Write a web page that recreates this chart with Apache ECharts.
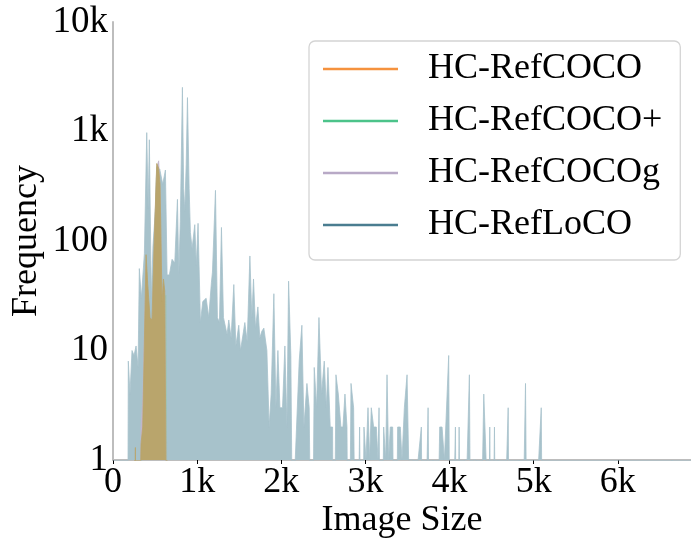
<!DOCTYPE html>
<html>
<head>
<meta charset="utf-8">
<script src="https://cdn.jsdelivr.net/npm/echarts@6/dist/echarts.min.js"></script>
<style>
  html, body { margin: 0; padding: 0; background: #fff; }
  #main { width: 691px; height: 539px; }
</style>
</head>
<body>
<div id="main"></div>
<script>
// image size (px) -> frequency; 0 = empty bin
const locoSize = [0, 171, 182, 202, 226, 250, 274, 298, 313, 337, 373, 401, 418, 432, 456, 475, 492, 508, 524, 540, 555,
  591, 623, 643, 670, 702, 734, 766, 782, 800, 825, 840, 853, 870, 885, 905, 920, 940, 972, 990, 1011, 1039, 1067,
  1107, 1138, 1170, 1182, 1218, 1241, 1265, 1289, 1313, 1336, 1356, 1376, 1404, 1436, 1460, 1495, 1515, 1539, 1567,
  1595, 1627, 1650, 1670, 1694, 1722, 1745, 1769, 1793, 1829, 1856, 1880, 1912, 1936, 1960, 1984, 2015, 2043, 2067,
  2087, 2114, 2146, 2166, 2213, 2245, 2269, 2305, 2332, 2364, 2392, 2420, 2448, 2479, 2511, 2535, 2555, 2582, 2610,
  2622, 2650, 2678, 2709, 2733, 2757, 2781, 2800, 2829, 2860, 2892, 2931, 2959, 2983, 3007, 3031, 3050, 3070, 3098,
  3130, 3150, 3162, 3186, 3217, 3241, 3257, 3276, 3296, 3324, 3356, 3383, 3415, 3435, 3463, 3495, 3514, 3566, 3590,
  3626, 3665, 3685, 3745, 3772, 3804, 3832, 3883, 3911, 3939, 3990, 4010, 4070, 4090, 4114, 4137, 4177, 4209, 4236,
  4260, 4280, 4312, 4347, 4407, 4435, 4454, 4478, 4502, 4534, 4558, 4578, 4605, 4697, 4716, 4823, 4843, 4903, 4930,
  5090, 5113, 6640, 6648, 6656, 6870];
const locoFreq = [0, 0, 8, 4, 10, 9, 11, 7, 56, 30, 77, 976, 200, 840, 30, 90, 141, 200, 256, 400, 455,
  330, 445, 49, 49, 68, 63, 240, 49, 150, 2530, 300, 187, 500, 2040, 300, 120, 85, 141, 60, 145, 18, 28,
  30, 20, 42, 52, 290, 20, 18, 133, 20, 20, 14, 19, 13, 40, 11, 17, 10, 13, 18,
  12, 73, 20, 45, 16, 25, 13, 15, 16, 10, 2, 4, 33, 3, 10, 3, 3, 11, 2,
  43, 9, 0, 1, 8, 17, 2, 5, 3, 0, 7, 3, 20, 4, 8, 3, 7, 2, 2,
  0, 6, 4, 2, 2, 4, 2, 0, 5, 3, 0, 2, 0, 2, 1, 3, 1, 3, 2,
  2, 1, 3, 0, 2, 1, 6, 1, 2, 2, 0, 2, 2, 1, 3, 6, 1, 1, 0,
  1, 2, 0, 3, 0, 1, 0, 2, 2, 1, 9, 0, 2, 0, 2, 0, 1, 1, 6,
  0, 1, 1, 0, 4, 1, 0, 2, 0, 2, 0, 1, 0, 3, 0, 1, 0, 5, 0,
  3, 0, 0, 1, 0, 0];

const cocoSize = [250, 266, 280, 333, 353, 393, 413, 440, 464, 492, 520, 543, 559, 583, 600, 615, 631, 648];
const cocoFreq = [0, 1.3, 0, 1.4, 2, 75, 40, 20, 19, 114, 510, 460, 330, 28, 45, 35, 36, 0];

const cocoPlusSize = [330, 340, 360, 395, 415, 440, 465, 492, 520, 543, 560, 583, 600, 615, 630, 646];
const cocoPlusFreq = [0, 1.2, 1.8, 60, 35, 16, 17, 100, 470, 430, 300, 25, 40, 30, 32, 0];

const cocoGSize = [325, 333, 353, 393, 413, 440, 464, 492, 520, 543, 559, 583, 600, 615, 631, 648];
const cocoGFreq = [0, 2, 3.5, 60, 35, 15, 16, 100, 470, 540, 300, 25, 40, 30, 30, 0];

const xTicks = [0, 1000, 2000, 3000, 4000, 5000, 6000];

const FONT = 'Liberation Serif';

// log axis: empty bins go far below the axis floor and get clipped
function pairs(sizes, freqs) {
  return sizes.map((s, i) => [s, freqs[i] > 0 ? freqs[i] : 0.01]);
}

function kLabel(v) {
  if (v === 0) return '0';
  return v >= 1000 ? (v / 1000) + 'k' : String(v);
}

function areaSeries(name, data, lineColor, fillColor, z) {
  return {
    name: name,
    type: 'line',
    data: data,
    symbol: 'none',
    z: z,
    clip: true,
    itemStyle: { color: lineColor },
    lineStyle: { color: fillColor, width: 0.8 },
    areaStyle: { color: fillColor, opacity: 1 },
    emphasis: { disabled: true }
  };
}

const chart = echarts.init(document.getElementById('main'), null, { renderer: 'canvas' });

chart.setOption({
  animation: false,
  backgroundColor: '#fff',
  grid: { left: 113, right: 0, top: 22, bottom: 79, outerBoundsMode: 'none', containLabel: false },
  legend: {
    data: ['HC-RefCOCO', 'HC-RefCOCO+', 'HC-RefCOCOg', 'HC-RefLoCO'],
    orient: 'vertical',
    left: 309,
    top: 41,
    icon: 'rect',
    itemWidth: 75,
    itemHeight: 2.5,
    itemGap: 16,
    padding: [10, 18, 17, 14],
    borderColor: '#d4d4d4',
    borderWidth: 1.3,
    borderRadius: 6,
    backgroundColor: '#fff',
    textStyle: { fontFamily: FONT, fontSize: 36, lineHeight: 36, color: '#000', padding: [0, 0, 0, 25] }
  },
  xAxis: {
    type: 'value',
    min: 0,
    max: 6870,
    interval: 1000,
    name: 'Image Size',
    nameLocation: 'middle',
    nameGap: 43,
    nameMoveOverlap: false,
    nameTextStyle: { fontFamily: FONT, fontSize: 36, color: '#000' },
    axisLine: { lineStyle: { color: '#bdbdbd', width: 2 } },
    axisTick: { show: true, length: 4, customValues: xTicks, lineStyle: { color: '#000', width: 1 } },
    axisLabel: {
      customValues: xTicks,
      formatter: kLabel,
      margin: 5,
      fontFamily: FONT, fontSize: 36, color: '#000'
    },
    splitLine: { show: false }
  },
  yAxis: {
    type: 'log',
    logBase: 10,
    min: 1,
    max: 10000,
    name: 'Frequency',
    nameLocation: 'middle',
    nameGap: 68,
    nameMoveOverlap: false,
    nameRotate: 90,
    nameTextStyle: { fontFamily: FONT, fontSize: 36, color: '#000' },
    axisLine: { show: true, lineStyle: { color: '#bdbdbd', width: 2 } },
    axisTick: { show: false },
    axisLabel: { formatter: kLabel, margin: 5, fontFamily: FONT, fontSize: 37, color: '#000' },
    splitLine: { show: false }
  },
  series: [
    areaSeries('HC-RefLoCO', pairs(locoSize, locoFreq), '#4a7d90', '#a7c2cb', 1),
    areaSeries('HC-RefCOCO+', pairs(cocoPlusSize, cocoPlusFreq), '#4cc38a', '#9fc4b0', 2),
    areaSeries('HC-RefCOCOg', pairs(cocoGSize, cocoGFreq), '#b8a9c6', '#c2b6cc', 3),
    areaSeries('HC-RefCOCO', pairs(cocoSize, cocoFreq), '#f5923e', '#b9a56c', 4)
  ]
});
</script>
</body>
</html>
